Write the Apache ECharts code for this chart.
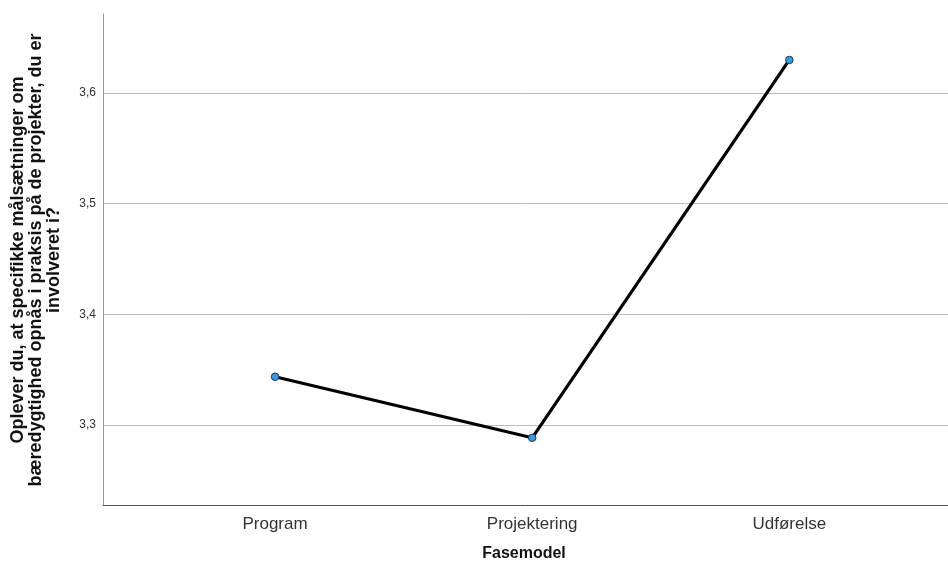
<!DOCTYPE html>
<html>
<head>
<meta charset="utf-8">
<script src="https://cdn.jsdelivr.net/npm/echarts@6/dist/echarts.min.js"></script>
<style>html,body{margin:0;padding:0;background:#fff}#c{width:948px;height:567px}</style>
</head>
<body>
<div id="c"></div>
<script>
const categories = ['Program', 'Projektering', 'Udførelse'];
const means = [3.3436, 3.2885, 3.6298];
const yTicks = [3.3, 3.4, 3.5, 3.6];
const yTitle = 'Oplever du, at specifikke målsætninger om\nbæredygtighed opnås i praksis på de projekter, du er\ninvolveret i?';
const xTitle = 'Fasemodel';

const chart = echarts.init(document.getElementById('c'));
const font = '"Liberation Sans", Arial, sans-serif';
chart.setOption({
  animation: false,
  grid: { left: 103, right: 0, top: 14, bottom: 62 },
  xAxis: {
    type: 'value', min: -0.669, max: 2.617,
    axisLine: { show: true, onZero: false, lineStyle: { color: '#555', width: 1 } },
    axisTick: { show: false },
    splitLine: { show: false },
    axisLabel: {
      customValues: categories.map((c, i) => i),
      formatter: v => categories[Math.round(v)] || '',
      color: '#333', fontSize: 17, fontFamily: font, margin: 11
    }
  },
  yAxis: {
    type: 'value', min: 3.2278, max: 3.6713,
    axisLine: { show: true, onZero: false, lineStyle: { color: '#999', width: 1 } },
    axisTick: { show: false, customValues: yTicks },
    axisLabel: {
      customValues: yTicks,
      formatter: v => v.toFixed(1).replace('.', ','),
      color: '#333', fontSize: 12, fontFamily: font, margin: 7
    },
    splitLine: { show: true, lineStyle: { color: '#bdbdbd', width: 1 } }
  },
  graphic: [
    { type: 'text', x: 36, y: 260, rotation: Math.PI / 2,
      style: { text: yTitle, font: 'bold 18px ' + font, fill: '#111', align: 'center', verticalAlign: 'middle', lineHeight: 18 } },
    { type: 'text', x: 524, y: 554,
      style: { text: xTitle, font: 'bold 16px ' + font, fill: '#111', align: 'center', verticalAlign: 'middle' } }
  ],
  series: [{
    type: 'line',
    data: means.map((v, i) => [i, v]),
    lineStyle: { color: '#000', width: 3.2 },
    symbol: 'circle', symbolSize: 7.5,
    itemStyle: { color: '#2a9df4', borderColor: '#333', borderWidth: 1 }
  }]
});
</script>
</body>
</html>
